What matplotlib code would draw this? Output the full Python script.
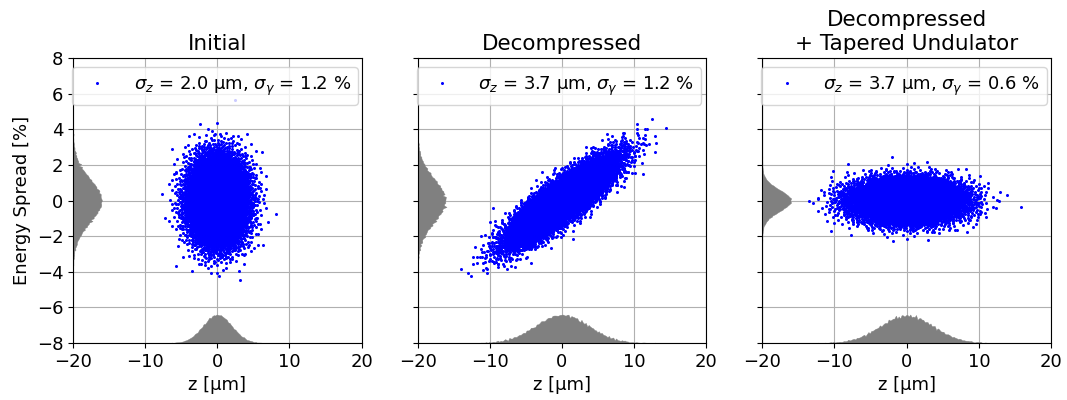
import numpy as np
import matplotlib
matplotlib.use("Agg")
import matplotlib.pyplot as plt

# ---- data ----
titles = ["Initial", "Decompressed", "Decompressed\n+ Tapered Undulator"]
sigma_z = [2.0, 3.7, 3.7]          # um
sigma_g = [1.2, 1.2, 0.6]          # %
corr = [0.0, 0.86, 0.0]            # z-energy correlation (chirp)
n_particles = 10000
xticks = [-20, -10, 0, 10, 20]
yticks = [-8, -6, -4, -2, 0, 2, 4, 6, 8]


def halton(n, base, skip=0, leap=1):
    i = skip + leap * np.arange(1, n + 1)
    f = 1.0
    r = np.zeros(n)
    while np.any(i > 0):
        f /= base
        r += f * (i % base)
        i = i // base
    return r


def gaussian_pairs(n, b1, b2, skip, leap):
    # deterministic quasi-random normal pairs (Box-Muller on leaped Halton points)
    u1 = halton(n, b1, skip, leap)
    u2 = halton(n, b2, skip, leap)
    u1 = np.clip(u1, 1e-12, 1)
    r = np.sqrt(-2 * np.log(u1))
    return r * np.cos(2 * np.pi * u2), r * np.sin(2 * np.pi * u2)


plt.rcParams['font.family'] = ['DejaVu Sans']
fig, axes = plt.subplots(1, 3, figsize=(10.67, 4.0), dpi=100, sharey=True)
fig.subplots_adjust(left=0.0684, right=0.985, bottom=0.1425, top=0.855, wspace=0.194)

bases = [(2, 3, 17, 409), (5, 7, 113, 419), (3, 11, 301, 431)]
zbins = np.linspace(-20, 20, 201)
gbins = np.linspace(-8, 8, 201)
zc = 0.5 * (zbins[1:] + zbins[:-1])
gc = 0.5 * (gbins[1:] + gbins[:-1])

FS = 13
for k, ax in enumerate(axes):
    a, b = gaussian_pairs(n_particles, *bases[k])
    z = sigma_z[k] * a
    g = sigma_g[k] * (corr[k] * a + np.sqrt(1 - corr[k] ** 2) * b)

    ax.grid(True, color='#b0b0b0', linewidth=0.8)
    # marginal histograms
    hz, _ = np.histogram(z, bins=zbins)
    ax.fill_between(zc, -8, -8 + 1.6 * hz / hz.max(), facecolor='gray',
                    edgecolor='gray', linewidth=0.3, snap=False, zorder=1.8)
    hg, _ = np.histogram(g, bins=gbins)
    ax.fill_betweenx(gc, -20, -20 + 4.0 * hg / hg.max(), facecolor='gray',
                     edgecolor='gray', linewidth=0.3, snap=False, zorder=1.8)

    label = r'$\sigma_z$ = %.1f µm, $\sigma_\gamma$ = %.1f %%' % (sigma_z[k], sigma_g[k])
    ax.plot(z, g, 'o', color='blue', ms=2.2, mew=0, label=label, zorder=2)

    ax.set_xlim(-20, 20)
    ax.set_ylim(-8, 8)
    ax.set_xticks(xticks)
    ax.set_yticks(yticks)
    ax.tick_params(labelsize=FS)
    ax.set_xlabel('z [µm]', fontsize=FS)
    ax.set_title(titles[k], fontsize=15.5)
    ax.legend(loc='upper left', bbox_to_anchor=(-0.003, 0.968), borderaxespad=0.0,
              fontsize=FS, handletextpad=1.0, markerscale=1.0)

axes[0].set_ylabel('Energy Spread [%]', fontsize=FS)

fig.savefig('out.png', dpi=100)
